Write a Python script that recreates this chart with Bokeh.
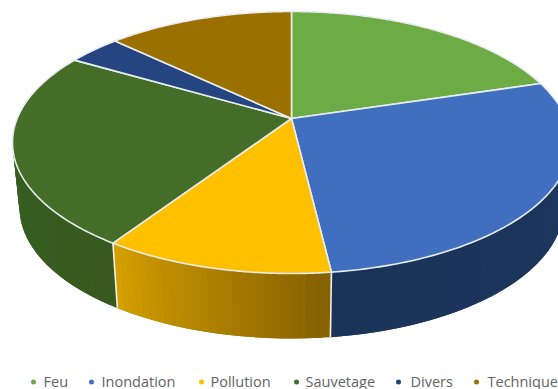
import numpy as np
from bokeh.plotting import figure
from bokeh.models import Range1d
from bokeh.core.properties import value
from bokeh.embed import file_html
from bokeh.resources import INLINE

categories = ["Feu", "Inondation", "Pollution", "Sauvetage", "Divers", "Technique"]
shares = [20.3, 27.8, 11.2, 24.1, 3.7, 12.9]
top_colors = ["#6dab45", "#416fbf", "#ffc000", "#446d28", "#24457f", "#9a7000"]
side_left = ["#3f6b28", "#1b3358", "#d8a200", "#366021", "#16294c", "#5c4300"]
side_right = ["#3f6b28", "#1d3761", "#866100", "#37591f", "#16294c", "#5c4300"]
legend_marker_x = [33, 91, 201, 296, 398, 476]
legend_text_x = [43, 101, 210, 305, 410, 487]

CX, CY, RX, RY, TILT = 291, 142, 279, 131, 0.183
BX, BY, BRX, BRY = 291, 207, 272, 131


def project(theta):
    """Clockwise angle from the top of the disk -> perspective unit-disk coordinates."""
    u, v = np.sin(theta), np.cos(theta)
    d = 1 + TILT * v
    return u * np.sqrt(1 - TILT**2) / d, (v + TILT) / d


def hex2rgb(h):
    return np.array([int(h[i:i + 2], 16) for i in (1, 3, 5)], float)


edges = np.concatenate([[0], np.cumsum(shares)]) / sum(shares) * 2 * np.pi
apex_u, apex_v = 0.0, TILT

p = figure(width=558, height=389, output_backend="svg", toolbar_location=None,
           x_range=Range1d(0, 558), y_range=Range1d(389, 0),
           min_border=0, outline_line_color=None, background_fill_color="white")
p.axis.visible = False
p.grid.visible = False

# side wall, only where the rim faces the viewer; strips overlap to avoid seams
sx, sy, sc = [], [], []
for i in range(len(shares)):
    a0, a1 = edges[i], edges[i + 1]
    lo, hi = max(a0, np.pi / 2), min(a1, 3 * np.pi / 2)
    if hi <= lo:
        continue
    n = max(2, int((hi - lo) * 40))
    t = np.linspace(lo, hi, n + 1)
    u, v = project(t)
    for k in range(n):
        f = (k + 0.5) / n  # 0 on the right end of the piece, 1 on its left end
        c = hex2rgb(side_right[i]) * (1 - f) + hex2rgb(side_left[i]) * f
        e = min(k + 2, n)
        sx.append([CX + RX * u[k], CX + RX * u[e], BX + BRX * u[e], BX + BRX * u[k]])
        sy.append([CY - RY * v[k], CY - RY * v[e], BY - BRY * v[e], BY - BRY * v[k]])
        sc.append("#%02x%02x%02x" % tuple(int(round(x)) for x in c))
sx, sy, sc = sx[::-1], sy[::-1], sc[::-1]
p.patches(sx, sy, fill_color=sc, line_color=None)

# white seams between side pieces
for e in edges:
    if np.pi / 2 < e < 3 * np.pi / 2:
        u, v = project(np.array([e]))
        p.line([CX + RX * u[0], BX + BRX * u[0]], [CY - RY * v[0], BY - BRY * v[0]],
               line_color="#f4f1e6", line_width=1.6)

# top face
tx, ty = [], []
for i in range(len(shares)):
    t = np.linspace(edges[i], edges[i + 1], 120)
    u, v = project(t)
    tx.append(np.concatenate([[CX + RX * apex_u], CX + RX * u]).tolist())
    ty.append(np.concatenate([[CY - RY * apex_v], CY - RY * v]).tolist())
p.patches(tx, ty, fill_color=top_colors, line_color="#e9ecee", line_width=1.6, line_join="round")

# legend
p.scatter(legend_marker_x, [381.5] * 6, size=5, marker="circle", color=top_colors, line_color=None)
p.text(legend_text_x, [380.5] * 6, text=categories, text_font=value("Open Sans"),
       text_font_size="14.5px", text_color="#636363", text_baseline="middle", text_align="left")

open("out.html", "w").write(file_html(p, INLINE))
